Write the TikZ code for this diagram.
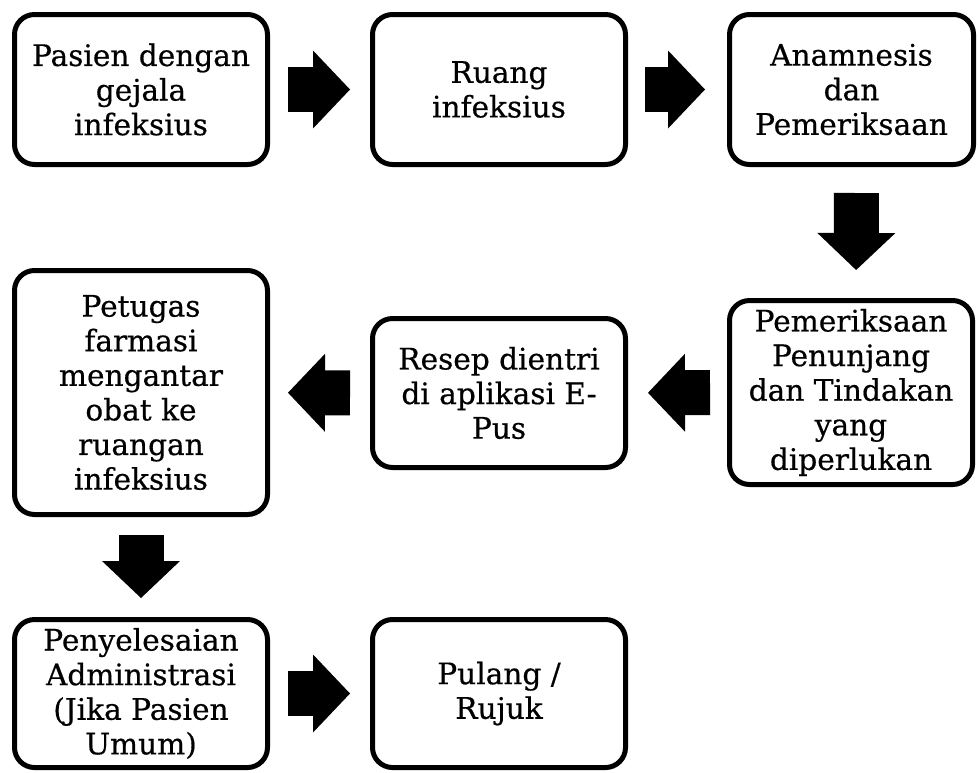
\documentclass[tikz,border=0pt]{standalone}
\usepackage{fontspec}
\setmainfont[FakeBold=0.5]{DejaVu Serif}
\usetikzlibrary{arrows.meta}

\tikzset{
	flowbox/.style={draw, line width=2.5pt, rounded corners=10pt, align=center,
		inner sep=0pt, font=\fontsize{14.8}{17.3}\selectfont},
	blockarrow/.style={line width=22.5pt,
		-{Triangle[length=18.5pt, width=39pt, line width=0pt]}},
}

\begin{document}
\begin{tikzpicture}[x=0.5pt, y=-0.5pt]
	\useasboundingbox (0,0) rectangle (978,772);

	% baris atas
	\node[flowbox, minimum width=126.5pt, minimum height=75pt] (pasien) at (141,89.5) {Pasien dengan\\gejala\\infeksius};
	\node[flowbox, minimum width=126.5pt, minimum height=75pt] (ruang) at (499,89.5) {Ruang\\infeksius};
	\node[flowbox, minimum width=122pt, minimum height=75pt] (anamnesis) at (851.5,89.5) {Anamnesis\\dan\\Pemeriksaan};

	% baris tengah
	\node[flowbox, minimum width=121.5pt, minimum height=92pt] (penunjang) at (851,392.5) {Pemeriksaan\\Penunjang\\dan Tindakan\\yang\\diperlukan};
	\node[flowbox, minimum width=126.5pt, minimum height=74.5pt] (resep) at (499,393) {Resep dientri\\di aplikasi E-\\Pus};
	\node[flowbox, minimum width=126.5pt, minimum height=122pt] (petugas) at (141,392.5) {Petugas\\farmasi\\mengantar\\obat ke\\ruangan\\infeksius};

	% baris bawah
	\node[flowbox, minimum width=126.5pt, minimum height=74pt] (admin) at (141,693.5) {Penyelesaian\\Administrasi\\(Jika Pasien\\Umum)};
	\node[flowbox, minimum width=126.5pt, minimum height=74pt] (pulang) at (499,693.5) {Pulang /\\Rujuk};

	% panah
	\draw[blockarrow, shorten <=9pt, shorten >=10pt] (pasien) -- (ruang);
	\draw[blockarrow, shorten <=8.5pt, shorten >=11pt] (ruang) -- (anamnesis);
	\draw[blockarrow, shorten <=13pt, shorten >=14pt] ([xshift=2.5pt]anamnesis.south) -- ([xshift=2.5pt]penunjang.north);
	\draw[blockarrow, shorten <=8.5pt, shorten >=10pt] (penunjang) -- (resep);
	\draw[blockarrow, shorten <=10pt, shorten >=9pt] (resep) -- (petugas);
	\draw[blockarrow, shorten <=9pt, shorten >=9.5pt] (petugas) -- (admin);
	\draw[blockarrow, shorten <=9pt, shorten >=10pt] (admin) -- (pulang);
\end{tikzpicture}
\end{document}
